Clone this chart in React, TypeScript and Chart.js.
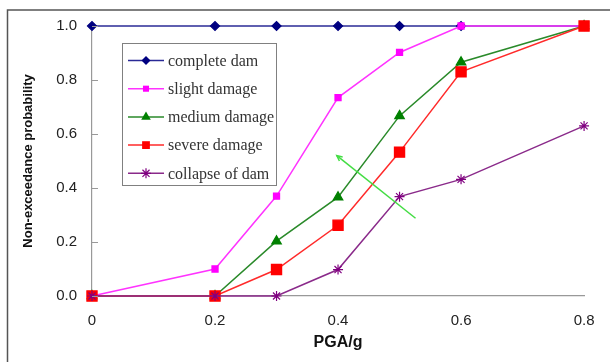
import React, { useEffect, useRef } from "react";
import { Chart, registerables } from "chart.js";

Chart.register(...registerables);

const pga = [0, 0.2, 0.3, 0.4, 0.5, 0.6, 0.8];
const completeDam = [1, 1, 1, 1, 1, 1, 1];
const slightDamage = [0, 0.1, 0.37, 0.735, 0.902, 1.0, 1.0];
const mediumDamage = [0, 0, 0.203, 0.366, 0.667, 0.866, 1.0];
const severeDamage = [0, 0, 0.098, 0.262, 0.533, 0.83, 1.0];
const collapseOfDam = [0, 0, 0, 0.098, 0.368, 0.432, 0.63];
const seriesNames = ["complete dam", "slight damage", "medium damage", "severe damage", "collapse of dam"];
const arrowX = [0.526, 0.398];
const arrowY = [0.288, 0.52];
const xTicks = [0, 0.2, 0.4, 0.6, 0.8];
const yTicks = [0, 0.2, 0.4, 0.6, 0.8, 1.0];

const styles = [
  { line: "#2a2a96", fill: "#000080", point: "rectRot", radius: 4.5 },
  { line: "#ff33ff", fill: "#ff00ff", point: "rect", radius: 4.3 },
  { line: "#2a8a2a", fill: "#008000", point: "triangle", radius: 5.5 },
  { line: "#ff2a2a", fill: "#ff0000", point: "rect", radius: 7.2 },
  { line: "#8a2a8a", fill: "#800080", point: "star", radius: 5 },
];

const seriesValues = [completeDam, slightDamage, mediumDamage, severeDamage, collapseOfDam];

function drawMarker(ctx: CanvasRenderingContext2D, style: string, x: number, y: number, r: number, color: string) {
  ctx.save();
  ctx.fillStyle = color;
  ctx.strokeStyle = color;
  ctx.lineWidth = 1.2;
  ctx.beginPath();
  if (style === "rectRot") {
    ctx.moveTo(x - r, y);
    ctx.lineTo(x, y - r);
    ctx.lineTo(x + r, y);
    ctx.lineTo(x, y + r);
    ctx.closePath();
    ctx.fill();
  } else if (style === "rect") {
    const s = Math.SQRT1_2 * r;
    ctx.rect(x - s, y - s, 2 * s, 2 * s);
    ctx.fill();
  } else if (style === "triangle") {
    ctx.moveTo(x, y - r);
    ctx.lineTo(x + r * 0.87, y + r * 0.5);
    ctx.lineTo(x - r * 0.87, y + r * 0.5);
    ctx.closePath();
    ctx.fill();
  } else {
    for (let k = 0; k < 4; k++) {
      const a = (k * Math.PI) / 4;
      ctx.moveTo(x - r * Math.cos(a), y - r * Math.sin(a));
      ctx.lineTo(x + r * Math.cos(a), y + r * Math.sin(a));
    }
    ctx.stroke();
  }
  ctx.restore();
}

const framePlugin = {
  id: "frame",
  beforeDraw(chart: any) {
    const ctx = chart.ctx;
    ctx.save();
    ctx.fillStyle = "#ffffff";
    ctx.fillRect(0, 0, chart.width, chart.height);
    ctx.strokeStyle = "#555555";
    ctx.lineWidth = 1.5;
    ctx.strokeRect(7.5, 10, 800, 600);
    ctx.restore();
  },
  afterDraw(chart: any) {
    const ctx = chart.ctx;
    const xs = chart.scales.x;
    const ys = chart.scales.y;
    ctx.save();
    // inner tick marks on y axis
    ctx.strokeStyle = "#999999";
    ctx.lineWidth = 1;
    yTicks.forEach((v) => {
      const py = Math.round(ys.getPixelForValue(v)) + 0.5;
      ctx.beginPath();
      ctx.moveTo(xs.left, py);
      ctx.lineTo(xs.left + 6, py);
      ctx.stroke();
    });
    // arrow
    const x0 = xs.getPixelForValue(arrowX[0]);
    const y0 = ys.getPixelForValue(arrowY[0]);
    const x1 = xs.getPixelForValue(arrowX[1]);
    const y1 = ys.getPixelForValue(arrowY[1]);
    ctx.strokeStyle = "#44dd44";
    ctx.lineWidth = 1.5;
    ctx.beginPath();
    ctx.moveTo(x0, y0);
    ctx.lineTo(x1, y1);
    ctx.stroke();
    const ang = Math.atan2(y1 - y0, x1 - x0);
    const hl = 6;
    ctx.beginPath();
    ctx.moveTo(x1 - hl * Math.cos(ang - 0.45), y1 - hl * Math.sin(ang - 0.45));
    ctx.lineTo(x1, y1);
    ctx.lineTo(x1 - hl * Math.cos(ang + 0.45), y1 - hl * Math.sin(ang + 0.45));
    ctx.stroke();

    // legend
    const bx = 122.5, by = 43.5, bw = 154, bh = 142;
    ctx.fillStyle = "#ffffff";
    ctx.fillRect(bx, by, bw, bh);
    ctx.strokeStyle = "#808080";
    ctx.lineWidth = 1;
    ctx.strokeRect(bx, by, bw, bh);
    ctx.font = '16px "Liberation Serif", "Times New Roman", serif';
    ctx.textBaseline = "middle";
    ctx.textAlign = "left";
    seriesNames.forEach((name, i) => {
      const st = styles[i];
      const cy = 60.5 + i * 28.2;
      ctx.strokeStyle = st.line;
      ctx.lineWidth = 1.5;
      ctx.beginPath();
      ctx.moveTo(128, cy);
      ctx.lineTo(164, cy);
      ctx.stroke();
      drawMarker(ctx, st.point, 146, cy, Math.min(st.radius, 5.5), st.fill);
      ctx.fillStyle = "#333333";
      ctx.fillText(name, 168, cy + 1);
    });
    ctx.restore();
  },
};

export default function App() {
  const ref = useRef<HTMLCanvasElement | null>(null);
  useEffect(() => {
    if (!ref.current) return;
    const datasets = seriesValues.map((vals, i) => ({
      label: seriesNames[i],
      data: pga.map((x, j) => ({ x, y: vals[j] })),
      borderColor: styles[i].line,
      backgroundColor: styles[i].fill,
      pointBackgroundColor: styles[i].fill,
      pointBorderColor: styles[i].fill,
      pointStyle: styles[i].point as any,
      pointRadius: styles[i].radius,
      pointBorderWidth: 1.2,
      borderWidth: 1.5,
      order: seriesNames.length - i,
      tension: 0,
      clip: false as any,
    }));
    const chart = new Chart(ref.current, {
      type: "line",
      data: { datasets },
      plugins: [framePlugin],
      options: {
        animation: false,
        responsive: false,
        layout: { padding: { top: 26, right: 11, bottom: 0, left: 0 } },
        plugins: { legend: { display: false }, tooltip: { enabled: false } },
        scales: {
          x: {
            type: "linear",
            min: 0,
            max: 0.8,
            afterFit: (s: any) => { s.height = 66; },
            afterBuildTicks: (s: any) => { s.ticks = xTicks.map((v) => ({ value: v })); },
            ticks: {
              padding: 15.5,
              color: "#222222",
              font: { family: "Arial, 'Liberation Sans', sans-serif", size: 15 },
              callback: (v: any) => String(Number(v)),
            },
            grid: { display: false, drawTicks: false },
            border: { display: true, color: "#999999", width: 1.2 },
            title: {
              display: true,
              text: "PGA/g",
              color: "#111111",
              font: { family: "Arial, 'Liberation Sans', sans-serif", size: 16, weight: "bold" },
              padding: { top: 0, bottom: 9.4 },
            },
          },
          y: {
            type: "linear",
            min: 0,
            max: 1,
            afterFit: (s: any) => { s.width = 92; },
            afterBuildTicks: (s: any) => { s.ticks = yTicks.map((v) => ({ value: v })); },
            ticks: {
              padding: 15,
              color: "#222222",
              font: { family: "Arial, 'Liberation Sans', sans-serif", size: 15 },
              callback: (v: any) => Number(v).toFixed(1),
            },
            grid: { display: false, drawTicks: false },
            border: { display: true, color: "#999999", width: 1.2 },
            title: {
              display: true,
              text: "Non-exceedance probability",
              color: "#111111",
              font: { family: "Arial, 'Liberation Sans', sans-serif", size: 13, weight: "bold" },
              padding: { top: 21, bottom: 0 },
            },
          },
        },
      },
    });
    return () => chart.destroy();
  }, []);
  return (
    <div style={{ position: "absolute", left: 0, top: 0, width: 610, height: 362 }}>
      <canvas ref={ref} width={610} height={362} style={{ display: "block" }} />
    </div>
  );
}
